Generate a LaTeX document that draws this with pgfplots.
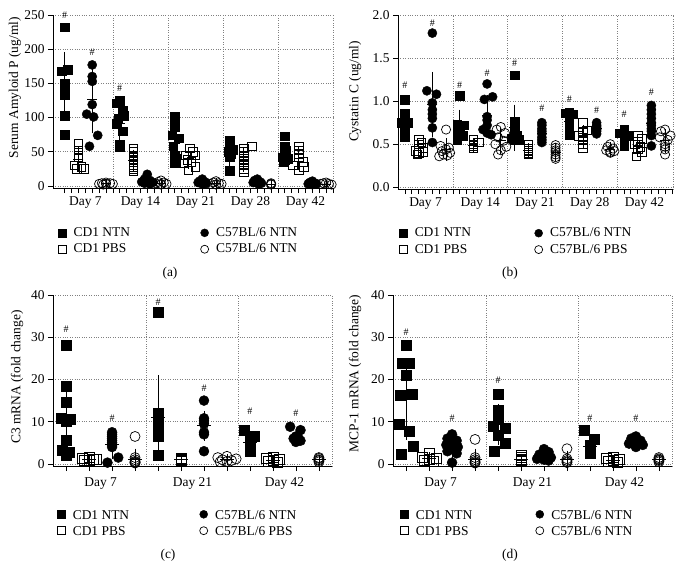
\documentclass[border=0pt]{standalone}
\usepackage{pgfplots}
\pgfplotsset{compat=1.18}
\usepackage{fontspec}
\setmainfont{Liberation Serif}
\newcommand\fs{\fontsize{13.5}{15.5}\selectfont}
\newcommand\hs{\fontsize{10}{12}\selectfont}
\pgfplotsset{
 panel/.style={scale only axis, axis x line*=bottom, axis y line*=left, tick align=outside,
  major tick length=5bp, minor tick length=0bp, clip=false, ymajorgrids, xminorgrids,
  grid style={dotted, gray, line width=0.6bp}, tick style={black, line width=0.7bp},
  axis line style={line width=0.7bp}, xticklabels={},
  tick label style={font=\fs}, label style={font=\fs},
  legend style={draw=none, fill=none, font=\fs, legend columns=2, anchor=north west,
   nodes={inner xsep=7.5bp},
   /tikz/every even column/.append style={column sep=63bp}, row sep=2bp},
  legend cell align=left,
  legend image code/.code={\draw[##1, mark size=4bp] plot coordinates {(-11bp,0)};},
  extra x tick style={tick style={draw=none}},
  /pgf/number format/assume math mode=true},
 narrowleg/.style={legend style={/tikz/every even column/.append style={column sep=56bp}}},
 cdn/.style={only marks, mark=square*, mark size=4.3bp, black},
 cdp/.style={only marks, mark=square, mark size=4.3bp, black, mark options={fill=white, line width=0.7bp}},
 cbn/.style={only marks, mark=*, mark size=4.6bp, black},
 cbp/.style={only marks, mark=o, mark size=4.6bp, black, mark options={fill=white, line width=0.7bp}},
 sd/.style={forget plot, only marks, black, mark=-, mark size=#1, mark options={line width=0.8bp},
  error bars/.cd, y dir=both, y explicit, error mark options={black, mark size=3.5bp, line width=0.7bp},
  error bar style={line width=0.7bp}},
 sd/.default=5bp,
}
\begin{document}
\begin{tikzpicture}
\path[use as bounding box] (0,0) rectangle (683bp,-581bp);
% ---------------- (a)
\begin{axis}[panel, at={(53bp,-188bp)}, anchor=south west, width=280bp, height=173bp,
 xmin=0.15, xmax=20.5, ymin=-3, ymax=250, ytick={0,50,100,150,200,250},
 xtick={1,1.5,...,20.5}, minor xtick={4.5,8.5,12.5,16.5,20.5},
 extra x ticks={2.5,6.5,10.5,14.5,18.5}, extra x tick labels={Day 7,Day 14,Day 21,Day 28,Day 42},
 ylabel={Serum Amyloid P (ug/ml)}, ylabel style={at={(axis description cs:-0.136,0.58)}, anchor=center},
 legend style={at={(axis description cs:0.0073,-0.205)}}]
\addplot[cdn] coordinates {(1,232) (0.8,168) (1.2,170) (1,150) (1,145) (1,140) (1,133) (1,103) (1,75)
 (5,125) (4.8,121) (5.2,110) (5.3,103) (4.9,98) (4.8,91) (5.2,80) (5,60) (5,57)
 (9,101) (9,87) (8.8,74) (9.3,70) (8.9,58) (9,45) (9.1,40) (9,33)
 (13,67) (13,57) (13.2,53) (12.9,50) (13.1,47) (13,42) (13,22)
 (17,73) (17,57) (17.1,52) (17,45) (16.8,42) (17.2,40) (17,38) (16.9,35)};
\addlegendentry{CD1 NTN}
\addplot[cbn] coordinates {(3,177) (3,160) (3,153) (3,119) (2.6,105) (3.1,101) (3.4,74) (2.8,58)
 (7,17) (6.8,10) (7.2,8) (6.6,6) (7,5) (7.4,5) (6.8,4) (7.2,3)
 (11,10) (10.8,7) (11.2,6) (10.7,5) (11.3,4) (11,3) (11.1,3)
 (15,10) (14.8,8) (15.2,6) (14.7,5) (15.3,4) (15,4) (15.1,3)
 (19,7) (18.8,5) (19.2,4) (18.7,3) (19.3,3) (19,2)};
\addlegendentry{C57BL/6 NTN}
\addplot[cdp] coordinates {(2,62) (2,52) (2,45) (2,42) (1.7,30) (2.2,28) (1.9,25) (2.4,25)
 (6,55) (6,50) (6,45) (6,42) (6,38) (6,35) (6,30) (6,27) (6,25) (6,22)
 (10.1,55) (10.3,50) (9.8,45) (10.5,45) (9.9,38) (10.2,35) (9.7,33) (10.5,28) (10,23)
 (14,55) (14,50) (14,45) (14,40) (14,35) (14,30) (14,25) (14,20) (14.6,58)
 (18,58) (18,52) (18,47) (18,42) (18.3,35) (17.6,30) (18.4,28) (18,23)};
\addlegendentry{CD1 PBS}
\addplot[cbp] coordinates {(4,5) (3.7,4) (4.3,4) (3.5,3) (4.5,3) (4,3) (3.8,2)
 (8,8) (7.8,6) (8.2,5) (7.6,4) (8.4,3) (8,3) (8,2)
 (12,7) (11.8,5) (12.2,4) (11.6,3) (12.4,3) (12,2)
 (16,4) (16,3) (16,2)
 (20,5) (19.8,4) (20.2,3) (19.6,3) (20.4,2)};
\addlegendentry{C57BL/6 NTN}
\addplot[sd] coordinates {(1,146) +- (0,45) (2,39) +- (0,13) (3,127) +- (0,45) (4,4) +- (0,1)
 (5,91) +- (0,27) (6,37) +- (0,11) (7,7) +- (0,4) (8,4) +- (0,2)
 (9,62) +- (0,17) (10,40) +- (0,10) (11,5) +- (0,2) (12,4) +- (0,2)
 (13,45) +- (0,12) (14,38) +- (0,12) (15,6) +- (0,2) (16,3) +- (0,1)
 (17,45) +- (0,12) (18,40) +- (0,12) (19,4) +- (0,2) (20,3) +- (0,1)};
\node[font=\hs] at (axis cs:1,249) {\#};
\node[font=\hs] at (axis cs:3,195) {\#};
\node[font=\hs] at (axis cs:5,143) {\#};
\end{axis}
% ---------------- (b)
\begin{axis}[panel, narrowleg, at={(398bp,-189bp)}, anchor=south west, width=275bp, height=174bp,
 xmin=0.49, xmax=20.58, ymin=-0.02, ymax=2, ytick={0,0.5,1,1.5,2},
 yticklabel style={/pgf/number format/.cd, fixed, fixed zerofill, precision=1},
 xtick={1,1.5,...,20.5}, minor xtick={4.5,8.5,12.5,16.5,20.58},
 extra x ticks={2.5,6.5,10.5,14.5,18.5}, extra x tick labels={Day 7,Day 14,Day 21,Day 28,Day 42},
 ylabel={Cystatin C (ug/ml)}, ylabel style={at={(axis description cs:-0.156,0.56)}, anchor=center},
 legend style={at={(axis description cs:-0.007,-0.2)}}]
\addplot[cdn] coordinates {(1,1.02) (1,0.86) (0.75,0.75) (1.2,0.75) (1,0.73) (1,0.70) (1,0.65) (1,0.62) (1,0.58)
 (5,1.06) (4.8,0.73) (5.3,0.72) (5,0.70) (4.8,0.67) (5,0.62) (5.2,0.60) (4.8,0.55)
 (9,1.30) (9,0.76) (9,0.72) (9,0.63) (9.2,0.60) (8.8,0.57) (9,0.55) (9.3,0.55)
 (13,0.87) (12.7,0.86) (13.3,0.85) (13,0.80) (13,0.75) (13,0.70) (13,0.65) (13,0.61)
 (17,0.67) (17,0.65) (16.7,0.63) (17.3,0.60) (17,0.58) (17,0.55) (17,0.48)};
\addlegendentry{CD1 NTN}
\addplot[cbn] coordinates {(3,1.79) (2.6,1.12) (3.3,1.08) (3,0.98) (3,0.90) (3,0.85) (3,0.80) (3,0.69) (3,0.52)
 (7,1.20) (7.4,1.05) (6.8,1.02) (7,0.82) (7,0.78) (7,0.72) (6.7,0.67) (7,0.63) (7.3,0.61)
 (11,0.75) (11,0.72) (11,0.68) (11,0.65) (11,0.62) (11,0.58) (11,0.55) (11,0.52)
 (15,0.75) (15,0.72) (15,0.70) (15,0.67) (15,0.65) (15,0.62)
 (19,0.95) (19,0.90) (19,0.85) (19,0.80) (19,0.75) (19,0.72) (19,0.68) (19,0.65) (19,0.60) (19,0.48)};
\addlegendentry{C57BL/6 NTN}
\addplot[cdp] coordinates {(2,0.55) (2.2,0.52) (2,0.50) (2.3,0.46) (1.8,0.42) (2.3,0.41) (2,0.40) (1.9,0.38)
 (6,0.55) (6.4,0.52) (6,0.50) (6,0.48) (6,0.46) (6,0.45)
 (10,0.50) (10,0.45) (10,0.43) (10,0.42) (10,0.40) (10,0.38)
 (14,0.75) (14.3,0.66) (14,0.63) (13.7,0.60) (14,0.58) (14,0.55) (14,0.50) (14,0.46)
 (18,0.60) (18.3,0.56) (18,0.53) (17.8,0.50) (18.2,0.47) (18,0.44) (18.3,0.41) (17.9,0.36)};
\addlegendentry{CD1 PBS}
\addplot[cbp] coordinates {(4,0.67) (3.6,0.48) (4.2,0.46) (4,0.44) (3.7,0.42) (4.3,0.40) (3.8,0.38) (4.1,0.37) (3.5,0.36)
 (8,0.70) (7.7,0.67) (8.3,0.63) (7.8,0.58) (8.2,0.54) (7.6,0.50) (8.4,0.47) (8,0.43) (7.8,0.38)
 (12,0.49) (12,0.46) (12,0.43) (12,0.41) (12,0.38) (12,0.35) (12,0.33)
 (16,0.50) (15.8,0.47) (16.2,0.45) (15.7,0.43) (16.3,0.42) (16,0.41) (16,0.40)
 (20,0.67) (19.7,0.65) (20.4,0.60) (19.6,0.58) (20.2,0.55) (20,0.50) (20,0.47) (20,0.44) (20,0.38)};
\addlegendentry{C57BL/6 PBS}
\addplot[sd] coordinates {(1,0.73) +- (0,0.09) (2,0.45) +- (0,0.06) (3,0.96) +- (0,0.34) (4,0.44) +- (0,0.09)
 (5,0.71) +- (0,0.15) (6,0.49) +- (0,0.04) (7,0.83) +- (0,0.2) (8,0.54) +- (0,0.11)
 (9,0.69) +- (0,0.23) (10,0.43) +- (0,0.04) (11,0.63) +- (0,0.08) (12,0.41) +- (0,0.06)
 (13,0.76) +- (0,0.1) (14,0.59) +- (0,0.09) (15,0.68) +- (0,0.05) (16,0.44) +- (0,0.04)
 (17,0.60) +- (0,0.06) (18,0.48) +- (0,0.08) (19,0.74) +- (0,0.13) (20,0.54) +- (0,0.1)};
\node[font=\hs] at (axis cs:1,1.18) {\#};
\node[font=\hs] at (axis cs:3,1.90) {\#};
\node[font=\hs] at (axis cs:5,1.18) {\#};
\node[font=\hs] at (axis cs:7,1.32) {\#};
\node[font=\hs] at (axis cs:9,1.44) {\#};
\node[font=\hs] at (axis cs:11,0.92) {\#};
\node[font=\hs] at (axis cs:13,1.02) {\#};
\node[font=\hs] at (axis cs:15,0.90) {\#};
\node[font=\hs] at (axis cs:17,0.85) {\#};
\node[font=\hs] at (axis cs:19,1.10) {\#};
\end{axis}
% ---------------- (c)
\begin{axis}[panel, at={(53bp,-466bp)}, anchor=south west, width=279bp, height=171bp,
 xmin=0.43, xmax=12.57, ymin=-0.5, ymax=40, ytick={0,10,20,30,40},
 xtick={1,...,12}, minor xtick={4.5,8.5,12.57}, xticklabel style={yshift=-3bp},
 extra x ticks={2.5,6.5,10.5}, extra x tick labels={Day 7,Day 21,Day 42},
 ylabel={C3 mRNA (fold change)}, ylabel style={at={(axis description cs:-0.129,0.52)}, anchor=center},
 legend style={at={(axis description cs:0.004,-0.235)}},
 cdn/.append style={mark size=5bp}, cdp/.append style={mark size=5bp},
 cbn/.append style={mark size=5bp}, cbp/.append style={mark size=5bp}]
\addplot[cdn] coordinates {(1,28.2) (1,18.5) (1,14.7) (0.8,10.9) (1.2,10.6) (1,10.0) (1,5.6) (0.85,3.2) (1.15,2.8) (1,2.0)
 (5,36) (5,12) (5,11.5) (5,10.8) (5,10) (5,9) (5,7.5) (5,6.5) (5,2)
 (8.75,8.0) (9.2,6.5) (9,5.5) (9,4.5) (9,3.5) (9,3.0)};
\addlegendentry{CD1 NTN}
\addplot[cbn] coordinates {(3,7.5) (3,7.0) (3,6.5) (3,6.0) (3,5.5) (3,5.0) (3,4.5) (3,4.0) (3.27,1.5) (2.8,0.3)
 (7,15.0) (7,10.8) (7,10.2) (7,9.5) (7,7.5) (7,7.0) (7,3.0)
 (10.75,8.8) (11.2,8.0) (11,6.5) (11.1,6.2) (10.9,6.0) (11,5.8) (11.2,5.5) (11,5.2)};
\addlegendentry{C57BL/6 NTN}
\addplot[cdp] coordinates {(2,1.5) (1.7,1.2) (2.3,1.0) (2,0.9) (1.8,0.8) (2.2,1.1)
 (6,1.3) (6,1.1) (6,1.0) (6,0.9) (6,0.7)
 (10,1.6) (9.7,1.3) (10.3,1.0) (10,0.8) (9.8,0.6) (10.2,0.3)};
\addlegendentry{CD1 PBS}
\addplot[cbp] coordinates {(4,6.5) (4,1.5) (4,1.0) (4,0.6) (4,0.4) (4,0.3) (4,0.2)
 (8,1.8) (7.6,1.5) (8.4,1.2) (7.8,1.0) (8.2,0.8) (8,0.6) (7.7,0.5)
 (12,1.5) (12,1.3) (12,1.0) (12,0.8) (12,0.5)};
\addlegendentry{C57BL/6 PBS}
\addplot[sd=7bp] coordinates {(1,10.7) +- (0,8.1) (2,1.0) +- (0,0.2) (3,4.6) +- (0,2.6) (4,1.0) +- (0,1.8)
 (5,11.1) +- (0,9.1) (6,1.0) +- (0,0.2) (7,9.0) +- (0,2.7) (8,1.0) +- (0,0.4)
 (9,5.0) +- (0,1.9) (10,0.9) +- (0,0.4) (11,6.4) +- (0,1.2) (12,1.0) +- (0,0.35)};
\node[font=\hs] at (axis cs:1,31.9) {\#};
\node[font=\hs] at (axis cs:3,10.9) {\#};
\node[font=\hs] at (axis cs:5,38.4) {\#};
\node[font=\hs] at (axis cs:7,18.0) {\#};
\node[font=\hs] at (axis cs:9,12.4) {\#};
\node[font=\hs] at (axis cs:11,12.0) {\#};
\end{axis}
% ---------------- (d)
\begin{axis}[panel, narrowleg, at={(393bp,-466bp)}, anchor=south west, width=279bp, height=171bp,
 xmin=0.43, xmax=12.57, ymin=-0.5, ymax=40, ytick={0,10,20,30,40},
 xtick={1,...,12}, minor xtick={4.5,8.5,12.57}, xticklabel style={yshift=-3bp},
 extra x ticks={2.5,6.5,10.5}, extra x tick labels={Day 7,Day 21,Day 42},
 ylabel={MCP-1 mRNA (fold change)}, ylabel style={at={(axis description cs:-0.136,0.54)}, anchor=center},
 legend style={at={(axis description cs:0.015,-0.235)}},
 cdn/.append style={mark size=5bp}, cdp/.append style={mark size=5bp},
 cbn/.append style={mark size=5bp}, cbp/.append style={mark size=5bp}]
\addplot[cdn] coordinates {(1,28.2) (0.85,23.8) (1.15,23.8) (1,21.0) (0.75,16.2) (1.27,16.5) (0.7,9.5) (1.15,7.7) (1.3,4.2) (0.8,2.4)
 (5,16.5) (5,12.8) (5,11.5) (5,10.8) (4.8,9.0) (5.3,8.5) (5,6.8) (5.3,5.0) (4.85,3.0)
 (8.75,7.9) (9.2,5.9) (9,4.5) (9,3.5) (9,3.0) (9,2.5)};
\addlegendentry{CD1 NTN}
\addplot[cbn] coordinates {(3,7.0) (2.8,6.0) (3.2,5.5) (3,5.0) (2.75,4.5) (3.25,4.0) (3,3.5) (2.8,3.0) (3.2,2.5) (3,0.3)
 (7,3.5) (7.2,2.8) (6.8,2.2) (7,1.8) (7.3,1.5) (6.7,1.2) (7,1.0) (7.2,0.8)
 (11,6.5) (10.8,6.0) (11.2,5.5) (11,5.0) (10.7,4.8) (11.3,4.5) (11,4.2) (11,4.0)};
\addlegendentry{C57BL/6 NTN}
\addplot[cdp] coordinates {(2,2.5) (1.7,1.5) (2.3,1.2) (2,1.0) (1.8,0.8) (2.2,0.5)
 (6,2.0) (6,1.5) (6,1.0) (6,0.8) (6,0.5)
 (10,1.5) (9.7,1.2) (10.3,1.0) (10,0.8) (9.8,0.5) (10.2,0.3)};
\addlegendentry{CD1 PBS}
\addplot[cbp] coordinates {(4,5.8) (4,1.5) (4,1.0) (4,0.6) (4,0.3) (4,0.2)
 (8,3.6) (8,1.2) (8,0.8) (8,0.5) (8,0.3)
 (12,1.5) (12,1.2) (12,1.0) (12,0.8) (12,0.5)};
\addlegendentry{C57BL/6 NTN}
\addplot[sd=7bp] coordinates {(1,15.3) +- (0,8.8) (2,1.2) +- (0,0.7) (3,4.1) +- (0,1.9) (4,1.0) +- (0,1.8)
 (5,9.4) +- (0,4.0) (6,1.1) +- (0,0.5) (7,1.6) +- (0,0.9) (8,1.0) +- (0,1.3)
 (9,4.2) +- (0,2.0) (10,0.9) +- (0,0.4) (11,5.0) +- (0,0.8) (12,1.0) +- (0,0.35)};
\node[font=\hs] at (axis cs:1,31.1) {\#};
\node[font=\hs] at (axis cs:3,10.9) {\#};
\node[font=\hs] at (axis cs:5,19.7) {\#};
\node[font=\hs] at (axis cs:9,10.9) {\#};
\node[font=\hs] at (axis cs:11,10.9) {\#};
\end{axis}
\node[font=\fs] at (170bp,-273bp) {(a)};
\node[font=\fs] at (510bp,-273bp) {(b)};
\node[font=\fs] at (168bp,-555bp) {(c)};
\node[font=\fs] at (510bp,-555bp) {(d)};
\end{tikzpicture}
\end{document}
